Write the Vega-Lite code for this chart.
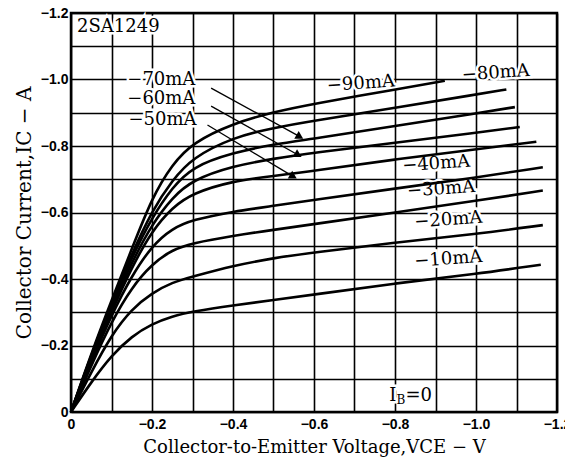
{
  "$schema": "https://vega.github.io/schema/vega-lite/v6.json",
  "width": 486,
  "height": 399,
  "autosize": {"type": "none"},
  "padding": {"left": 71, "top": 13, "right": 8, "bottom": 55},
  "background": "white",
  "config": {
    "view": {"stroke": "black", "strokeWidth": 2.5},
    "axis": {
      "grid": true, "gridColor": "black", "gridWidth": 1.6, "gridOpacity": 1,
      "domain": false, "ticks": false,
      "labelFont": "Liberation Sans", "labelFontWeight": "bold", "labelFontSize": 14, "labelColor": "black",
      "labelOverlap": false, "labelFlush": false,
      "titleFont": "DejaVu Serif", "titleFontWeight": "normal", "titleColor": "black"
    }
  },
  "datasets": {
    "curves": [
      {"ib": "10", "v": 0, "i": 0}, {"ib": "10", "v": -0.05, "i": -0.09}, {"ib": "10", "v": -0.1, "i": -0.17}, {"ib": "10", "v": -0.15, "i": -0.228}, {"ib": "10", "v": -0.2, "i": -0.265}, {"ib": "10", "v": -0.25, "i": -0.288}, {"ib": "10", "v": -0.3, "i": -0.302}, {"ib": "10", "v": -0.4, "i": -0.321}, {"ib": "10", "v": -0.5, "i": -0.337}, {"ib": "10", "v": -0.6, "i": -0.353}, {"ib": "10", "v": -0.8, "i": -0.387}, {"ib": "10", "v": -1.0, "i": -0.415}, {"ib": "10", "v": -1.16, "i": -0.443},
      {"ib": "20", "v": 0, "i": 0}, {"ib": "20", "v": -0.05, "i": -0.12}, {"ib": "20", "v": -0.1, "i": -0.232}, {"ib": "20", "v": -0.15, "i": -0.31}, {"ib": "20", "v": -0.2, "i": -0.358}, {"ib": "20", "v": -0.25, "i": -0.39}, {"ib": "20", "v": -0.3, "i": -0.407}, {"ib": "20", "v": -0.4, "i": -0.44}, {"ib": "20", "v": -0.5, "i": -0.463}, {"ib": "20", "v": -0.6, "i": -0.48}, {"ib": "20", "v": -0.8, "i": -0.51}, {"ib": "20", "v": -1.0, "i": -0.535}, {"ib": "20", "v": -1.165, "i": -0.562},
      {"ib": "30", "v": 0, "i": 0}, {"ib": "30", "v": -0.05, "i": -0.14}, {"ib": "30", "v": -0.1, "i": -0.272}, {"ib": "30", "v": -0.15, "i": -0.375}, {"ib": "30", "v": -0.2, "i": -0.445}, {"ib": "30", "v": -0.25, "i": -0.488}, {"ib": "30", "v": -0.3, "i": -0.508}, {"ib": "30", "v": -0.4, "i": -0.53}, {"ib": "30", "v": -0.5, "i": -0.548}, {"ib": "30", "v": -0.6, "i": -0.565}, {"ib": "30", "v": -0.8, "i": -0.6}, {"ib": "30", "v": -1.0, "i": -0.635}, {"ib": "30", "v": -1.165, "i": -0.666},
      {"ib": "40", "v": 0, "i": 0}, {"ib": "40", "v": -0.05, "i": -0.15}, {"ib": "40", "v": -0.1, "i": -0.292}, {"ib": "40", "v": -0.15, "i": -0.41}, {"ib": "40", "v": -0.2, "i": -0.5}, {"ib": "40", "v": -0.25, "i": -0.552}, {"ib": "40", "v": -0.3, "i": -0.578}, {"ib": "40", "v": -0.4, "i": -0.603}, {"ib": "40", "v": -0.5, "i": -0.62}, {"ib": "40", "v": -0.6, "i": -0.638}, {"ib": "40", "v": -0.8, "i": -0.672}, {"ib": "40", "v": -1.0, "i": -0.705}, {"ib": "40", "v": -1.165, "i": -0.736},
      {"ib": "50", "v": 0, "i": 0}, {"ib": "50", "v": -0.05, "i": -0.16}, {"ib": "50", "v": -0.1, "i": -0.302}, {"ib": "50", "v": -0.15, "i": -0.435}, {"ib": "50", "v": -0.2, "i": -0.545}, {"ib": "50", "v": -0.25, "i": -0.615}, {"ib": "50", "v": -0.3, "i": -0.658}, {"ib": "50", "v": -0.4, "i": -0.695}, {"ib": "50", "v": -0.5, "i": -0.71}, {"ib": "50", "v": -0.6, "i": -0.725}, {"ib": "50", "v": -0.8, "i": -0.76}, {"ib": "50", "v": -1.0, "i": -0.79}, {"ib": "50", "v": -1.149, "i": -0.813},
      {"ib": "60", "v": 0, "i": 0}, {"ib": "60", "v": -0.05, "i": -0.165}, {"ib": "60", "v": -0.1, "i": -0.312}, {"ib": "60", "v": -0.15, "i": -0.45}, {"ib": "60", "v": -0.2, "i": -0.565}, {"ib": "60", "v": -0.25, "i": -0.645}, {"ib": "60", "v": -0.3, "i": -0.698}, {"ib": "60", "v": -0.4, "i": -0.74}, {"ib": "60", "v": -0.5, "i": -0.762}, {"ib": "60", "v": -0.6, "i": -0.78}, {"ib": "60", "v": -0.8, "i": -0.81}, {"ib": "60", "v": -1.0, "i": -0.84}, {"ib": "60", "v": -1.108, "i": -0.857},
      {"ib": "70", "v": 0, "i": 0}, {"ib": "70", "v": -0.05, "i": -0.17}, {"ib": "70", "v": -0.1, "i": -0.322}, {"ib": "70", "v": -0.15, "i": -0.465}, {"ib": "70", "v": -0.2, "i": -0.585}, {"ib": "70", "v": -0.25, "i": -0.675}, {"ib": "70", "v": -0.3, "i": -0.738}, {"ib": "70", "v": -0.4, "i": -0.78}, {"ib": "70", "v": -0.5, "i": -0.805}, {"ib": "70", "v": -0.6, "i": -0.822}, {"ib": "70", "v": -0.8, "i": -0.86}, {"ib": "70", "v": -1.0, "i": -0.898}, {"ib": "70", "v": -1.096, "i": -0.917},
      {"ib": "80", "v": 0, "i": 0}, {"ib": "80", "v": -0.05, "i": -0.172}, {"ib": "80", "v": -0.1, "i": -0.328}, {"ib": "80", "v": -0.15, "i": -0.475}, {"ib": "80", "v": -0.2, "i": -0.605}, {"ib": "80", "v": -0.25, "i": -0.697}, {"ib": "80", "v": -0.3, "i": -0.765}, {"ib": "80", "v": -0.4, "i": -0.826}, {"ib": "80", "v": -0.5, "i": -0.855}, {"ib": "80", "v": -0.6, "i": -0.876}, {"ib": "80", "v": -0.8, "i": -0.915}, {"ib": "80", "v": -1.0, "i": -0.955}, {"ib": "80", "v": -1.075, "i": -0.97},
      {"ib": "90", "v": 0, "i": 0}, {"ib": "90", "v": -0.05, "i": -0.176}, {"ib": "90", "v": -0.1, "i": -0.335}, {"ib": "90", "v": -0.15, "i": -0.49}, {"ib": "90", "v": -0.2, "i": -0.645}, {"ib": "90", "v": -0.25, "i": -0.745}, {"ib": "90", "v": -0.3, "i": -0.81}, {"ib": "90", "v": -0.4, "i": -0.868}, {"ib": "90", "v": -0.5, "i": -0.902}, {"ib": "90", "v": -0.6, "i": -0.927}, {"ib": "90", "v": -0.8, "i": -0.97}, {"ib": "90", "v": -0.923, "i": -0.996}
    ],
    "labels": [
      {"t": "2SA1249", "v": -0.015, "i": -1.158},
      {"t": "−70mA", "v": -0.139, "i": -1.0},
      {"t": "−60mA", "v": -0.139, "i": -0.94},
      {"t": "−50mA", "v": -0.142, "i": -0.878},
      {"t": "I", "v": -0.786, "i": -0.047},
      {"t": "=0", "v": -0.826, "i": -0.047}
    ],
    "sublabels": [
      {"t": "B", "v": -0.804, "i": -0.036}
    ],
    "tilted": [
      {"t": "−90mA", "v": -0.632, "i": -0.98},
      {"t": "−80mA", "v": -0.965, "i": -1.012},
      {"t": "−40mA", "v": -0.818, "i": -0.739},
      {"t": "−30mA", "v": -0.83, "i": -0.663},
      {"t": "−20mA", "v": -0.848, "i": -0.57},
      {"t": "−10mA", "v": -0.848, "i": -0.452}
    ],
    "arrows": [
      {"ib": "70", "v": -0.346, "i": -0.974, "v2": -0.565, "i2": -0.828},
      {"ib": "60", "v": -0.346, "i": -0.92, "v2": -0.561, "i2": -0.773},
      {"ib": "50", "v": -0.337, "i": -0.863, "v2": -0.549, "i2": -0.708}
    ]
  },
  "encoding": {
    "x": {
      "field": "v", "type": "quantitative",
      "scale": {"domain": [0, -1.2], "nice": false, "zero": false},
      "axis": {
        "values": [0, -0.1, -0.2, -0.3, -0.4, -0.5, -0.6, -0.7, -0.8, -0.9, -1.0, -1.1, -1.2],
        "labelExpr": "abs(round(datum.value*10))%2==0 ? (datum.value==0 ? '0' : format(datum.value,'.1f')) : ''",
        "labelPadding": 5,
        "title": "Collector-to-Emitter Voltage,VCE − V",
        "titleFontSize": 18, "titlePadding": 7
      }
    },
    "y": {
      "field": "i", "type": "quantitative",
      "scale": {"domain": [0, -1.2], "nice": false, "zero": false},
      "axis": {
        "values": [0, -0.1, -0.2, -0.3, -0.4, -0.5, -0.6, -0.7, -0.8, -0.9, -1.0, -1.1, -1.2],
        "labelExpr": "abs(round(datum.value*10))%2==0 ? (datum.value==0 ? '0' : format(datum.value,'.1f')) : ''",
        "labelPadding": 3,
        "title": "Collector Current,IC − A",
        "titleFontSize": 20, "titlePadding": 6
      }
    }
  },
  "layer": [
    {
      "data": {"name": "labels"},
      "mark": {"type": "text", "align": "left", "baseline": "middle", "font": "DejaVu Serif", "fontSize": 18, "stroke": "white", "strokeWidth": 5, "fill": "white"},
      "encoding": {"text": {"field": "t"}}
    },
    {
      "data": {"name": "tilted"},
      "mark": {"type": "text", "align": "left", "baseline": "middle", "font": "DejaVu Serif", "fontSize": 18, "angle": 356, "stroke": "white", "strokeWidth": 5, "fill": "white"},
      "encoding": {"text": {"field": "t"}}
    },
    {
      "data": {"name": "curves"},
      "mark": {"type": "line", "interpolate": "basis", "color": "black", "strokeWidth": 2.6},
      "encoding": {"detail": {"field": "ib"}}
    },
    {
      "data": {"name": "arrows"},
      "mark": {"type": "rule", "color": "black", "strokeWidth": 1.3},
      "encoding": {"x2": {"field": "v2"}, "y2": {"field": "i2"}}
    },
    {
      "data": {"name": "arrows"},
      "mark": {"type": "point", "shape": "triangle-right", "angle": 30, "filled": true, "color": "black", "opacity": 1, "size": 80},
      "encoding": {"x": {"field": "v2", "type": "quantitative"}, "y": {"field": "i2", "type": "quantitative"}}
    },
    {
      "data": {"name": "labels"},
      "mark": {"type": "text", "align": "left", "baseline": "middle", "font": "DejaVu Serif", "fontSize": 18, "color": "black"},
      "encoding": {"text": {"field": "t"}}
    },
    {
      "data": {"name": "sublabels"},
      "mark": {"type": "text", "align": "left", "baseline": "middle", "font": "DejaVu Serif", "fontSize": 12, "color": "black"},
      "encoding": {"text": {"field": "t"}}
    },
    {
      "data": {"name": "tilted"},
      "mark": {"type": "text", "align": "left", "baseline": "middle", "font": "DejaVu Serif", "fontSize": 18, "angle": 356, "color": "black"},
      "encoding": {"text": {"field": "t"}}
    }
  ]
}
